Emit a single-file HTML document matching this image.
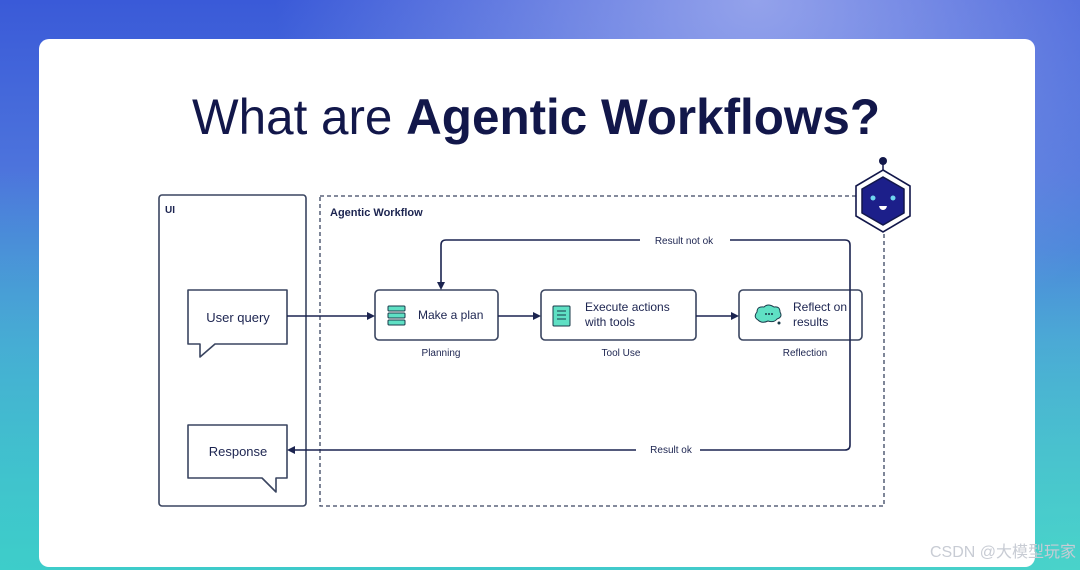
<!DOCTYPE html>
<html><head><meta charset="utf-8"><style>
html,body{margin:0;padding:0;width:1080px;height:570px;overflow:hidden}
body{background:linear-gradient(180deg,#3a5ad8 0%,#4d74dc 30%,#4a9fd8 60%,#3fc6cc 100%);position:relative;font-family:"Liberation Sans",sans-serif}
.bg2{position:absolute;inset:0;background:radial-gradient(ellipse at 70% 0%,rgba(170,180,240,.8),rgba(170,180,240,0) 45%),radial-gradient(ellipse at 0% 100%,rgba(60,210,200,.6),rgba(0,0,0,0) 50%),radial-gradient(ellipse at 100% 100%,rgba(80,220,200,.6),rgba(0,0,0,0) 40%)}
.card{position:absolute;left:39px;top:39px;width:996px;height:528px;background:#fff;border-radius:10px}
svg{position:absolute;left:0;top:0}
</style></head><body>
<div class="bg2"></div>
<div class="card"></div>
<svg width="1080" height="570" font-family="Liberation Sans, sans-serif">
<text x="536" y="134" text-anchor="middle" font-size="50" fill="#12174a" textLength="688" lengthAdjust="spacingAndGlyphs"><tspan>What are </tspan><tspan font-weight="bold">Agentic Workflows?</tspan></text>
<g fill="none" stroke="#3a4560" stroke-width="1.6">
<rect x="159" y="195" width="147" height="311" rx="3"/>
<rect x="320" y="196" width="564" height="310" stroke-dasharray="4,3" stroke-width="1.3"/>
<path d="M188 290 H287 V344 H215 L200 357 V344 H188 Z" stroke-linejoin="round"/>
<path d="M188 425 H287 V478 H276 V492 L262 478 H188 Z" stroke-linejoin="round"/>
<rect x="375" y="290" width="123" height="50" rx="4"/>
<rect x="541" y="290" width="155" height="50" rx="4"/>
<rect x="739" y="290" width="123" height="50" rx="4"/>
</g>
<g stroke="#1c2450" stroke-width="1.6" fill="none">
<path d="M287 316 H368"/><path d="M498 316 H534"/><path d="M696 316 H732"/>
<path d="M850 340 V245 Q850 240 845 240 H730 M640 240 H446 Q441 240 441 245 V283"/>
<path d="M850 340 V445 Q850 450 845 450 H700 M636 450 H294"/>
</g>
<g fill="#1c2450">
<path d="M375 316 L367 312 V320 Z"/><path d="M541 316 L533 312 V320 Z"/><path d="M739 316 L731 312 V320 Z"/>
<path d="M441 290 L437 282 H445 Z"/><path d="M287 450 L295 446 V454 Z"/>
</g>
<g fill="#1c2450" font-size="11">
<text x="165" y="213" font-weight="bold" font-size="10">UI</text>
<text x="330" y="216" font-weight="bold">Agentic Workflow</text>
<text x="684" y="244" text-anchor="middle" font-size="10">Result not ok</text>
<text x="671" y="453" text-anchor="middle" font-size="10">Result ok</text>
<text x="238" y="322" text-anchor="middle" font-size="13">User query</text>
<text x="238" y="456" text-anchor="middle" font-size="13">Response</text>
<text x="418" y="319" font-size="12">Make a plan</text>
<text x="585" y="311" font-size="12">Execute actions</text>
<text x="585" y="326" font-size="12">with tools</text>
<text x="793" y="311" font-size="12">Reflect on</text>
<text x="793" y="326" font-size="12">results</text>
<text x="441" y="356" text-anchor="middle" font-size="10">Planning</text>
<text x="621" y="356" text-anchor="middle" font-size="10">Tool Use</text>
<text x="805" y="356" text-anchor="middle" font-size="10">Reflection</text>
</g>
<g stroke="#1a3a4a" stroke-width="1" fill="#5fe0c4">
<rect x="388" y="306" width="17" height="5" rx="1"/><rect x="388" y="313" width="17" height="5" rx="1"/><rect x="388" y="320" width="17" height="5" rx="1"/>
<rect x="553" y="306" width="17" height="20" rx="1"/>
<path d="M757 312 q0-6 7-5 q4-4 10 0 q6-1 6 5 q3 5-3 7 q-3 4-9 2 q-6 3-10-1 q-5-3-1-8z"/>
</g>
<path d="M557 311 h9 M557 315 h9 M557 319 h9" stroke="#1a3a4a" stroke-width="1"/>
<circle cx="766" cy="314" r="1" fill="#1a3a4a"/><circle cx="769" cy="314" r="1" fill="#1a3a4a"/><circle cx="772" cy="314" r="1" fill="#1a3a4a"/>
<circle cx="779" cy="323" r="1.5" fill="#1a3a4a"/>
<g>
<circle cx="883" cy="161" r="4" fill="#12174a"/>
<line x1="883" y1="164" x2="883" y2="172" stroke="#12174a" stroke-width="1.5"/>
<polygon points="883,170 910,186 910,216 883,232 856,216 856,186" fill="#fff" stroke="#12174a" stroke-width="1.6"/>
<polygon points="883,177 904,189 904,213 883,225 862,213 862,189" fill="#1c1f8a" stroke="#12174a" stroke-width="1.5"/>
<circle cx="873" cy="198" r="2.5" fill="#6fd6ef"/><circle cx="893" cy="198" r="2.5" fill="#6fd6ef"/>
<path d="M879 206 h8 q-1 4-4 4 q-3 0-4-4z" fill="#fff"/>
</g>
<text x="1076" y="557" text-anchor="end" font-size="16" fill="#c8ccd4" font-family="Liberation Sans, Noto Sans CJK SC, sans-serif">CSDN @大模型玩家</text>
</svg>
</body></html>
